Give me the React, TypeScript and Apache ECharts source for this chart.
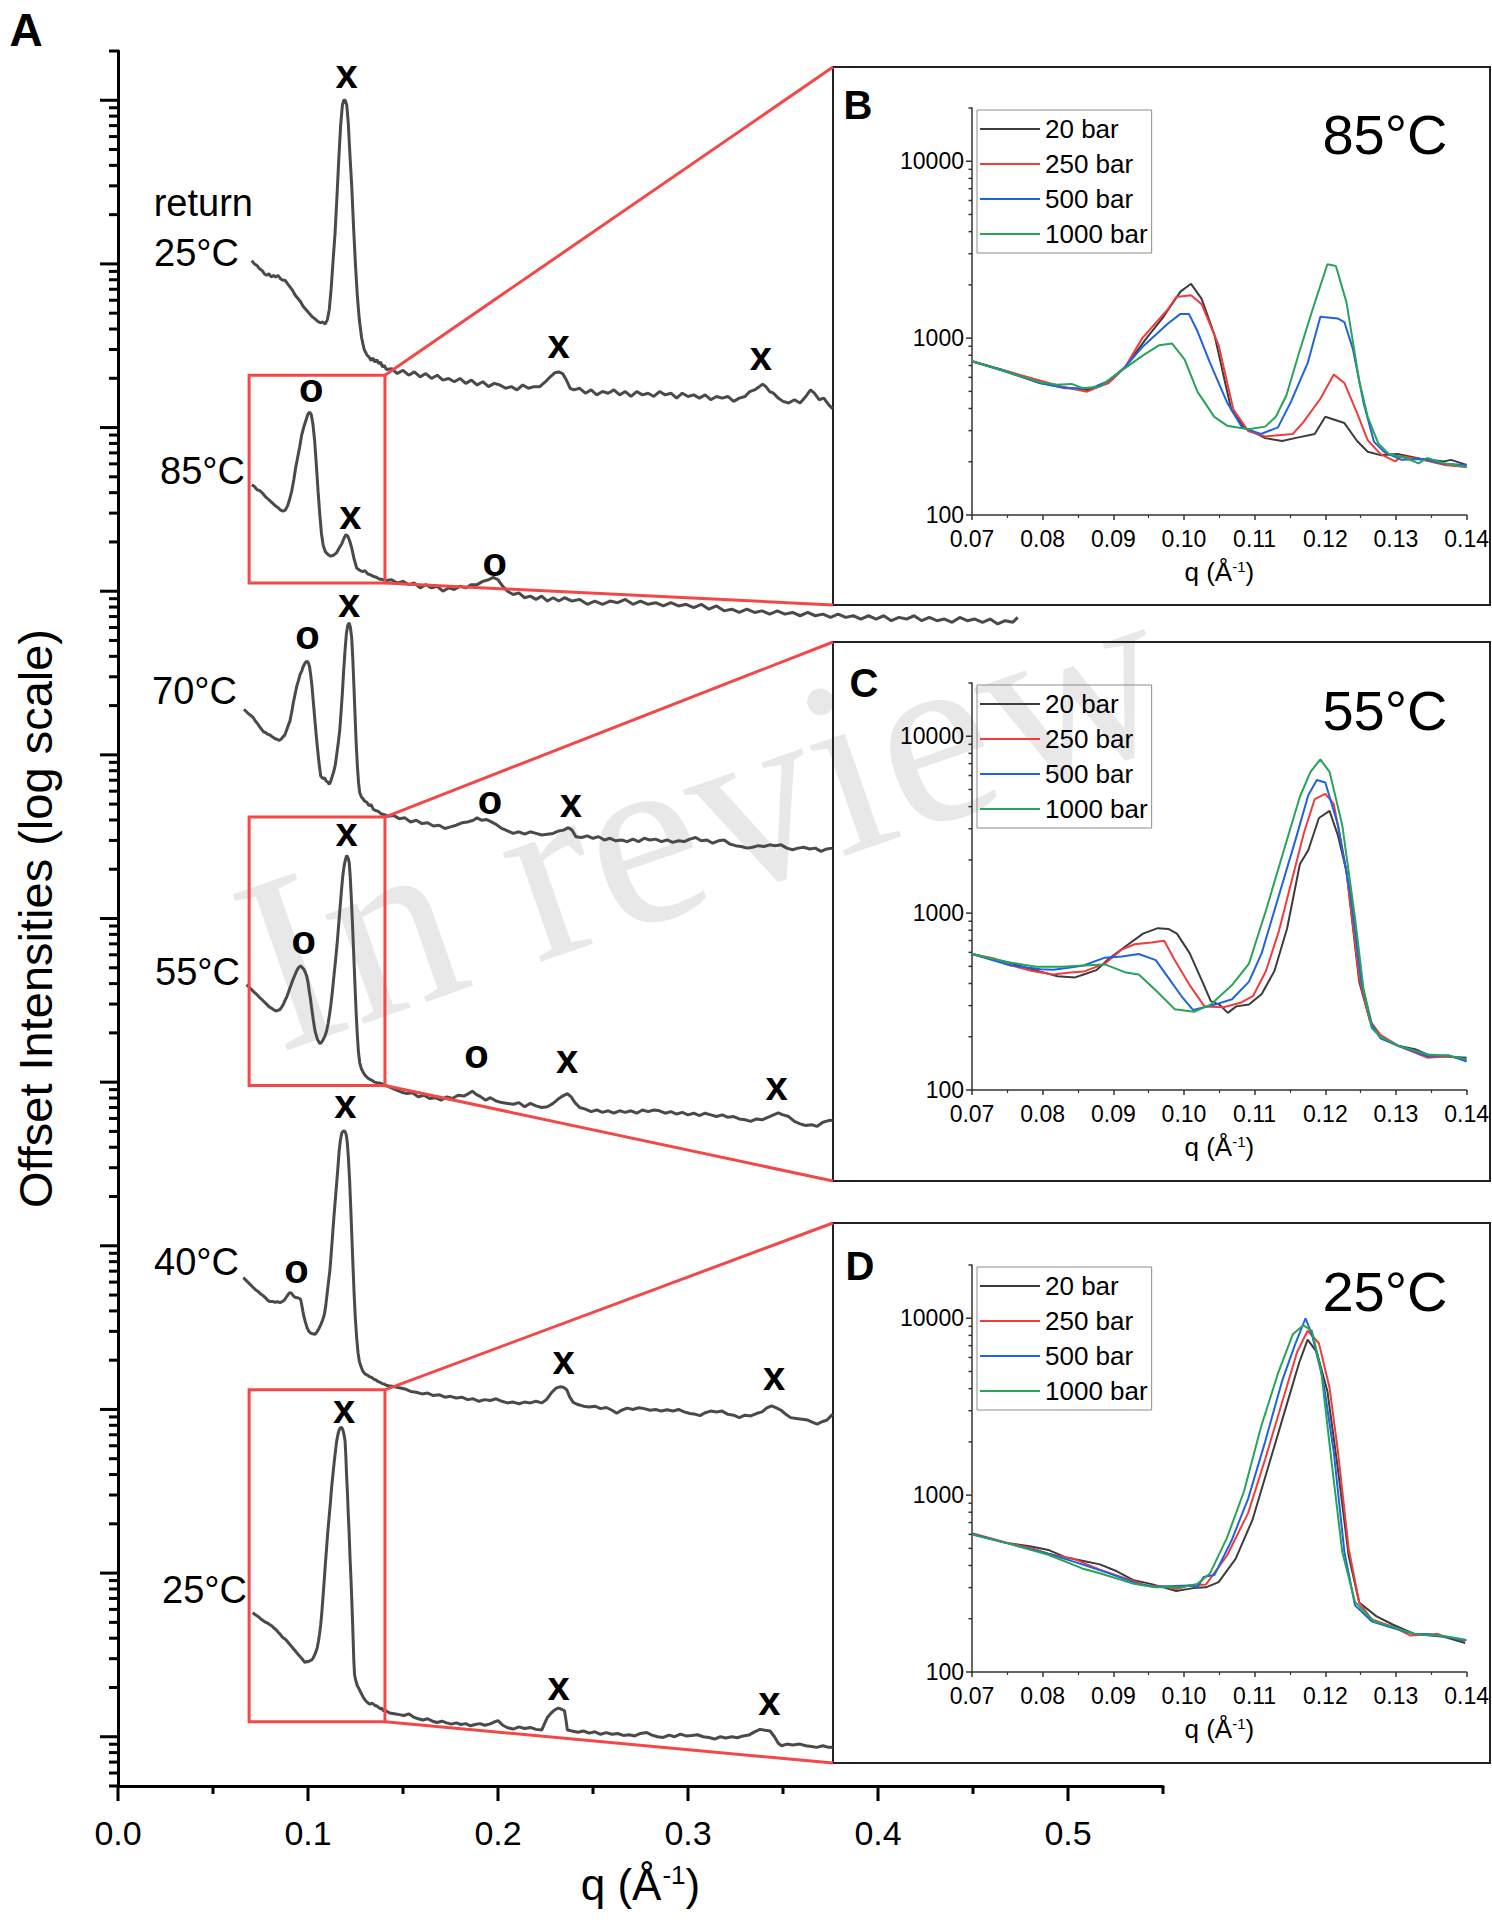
import React, { useEffect, useRef } from "react";
import * as echarts from "echarts";

type Pt = [number, number];

// ---------------- Panel A: q (Å^-1) vs log10(offset intensity) ----------------
const curveReturn25: Pt[] = [
  [0.0704,9.02],[0.0718,9.0],[0.0732,8.99],[0.0745,8.97],[0.0758,8.96],[0.077,8.94],[0.0782,8.93],[0.0794,8.94],[0.0806,8.92],[0.0818,8.93],[0.083,8.92],[0.0842,8.93],[0.0855,8.91],[0.0868,8.9],[0.088,8.9],[0.0892,8.88],[0.0905,8.86],[0.0918,8.84],[0.0932,8.81],[0.0946,8.79],[0.096,8.77],[0.0975,8.74],[0.099,8.72],[0.1005,8.7],[0.102,8.68],[0.1035,8.665],[0.105,8.65],[0.1065,8.64],[0.1078,8.645],[0.109,8.632],[0.1102,8.66],[0.1112,8.72],[0.1122,8.85],[0.1132,9.02],[0.1142,9.18],[0.1152,9.4],[0.1162,9.64],[0.1172,9.85],[0.1181,9.97],[0.1188,10.0],[0.1196,10.0],[0.1204,9.97],[0.1212,9.86],[0.1221,9.66],[0.123,9.48],[0.124,9.22],[0.125,8.99],[0.126,8.8],[0.127,8.66],[0.1282,8.55],[0.1295,8.48],[0.1309,8.445],[0.1322,8.43],[0.1332,8.41],[0.1342,8.425],[0.1352,8.4],[0.1362,8.415],[0.1372,8.39],[0.1382,8.4],[0.1392,8.37],[0.1402,8.38],[0.1412,8.355],
  [0.144,8.36],[0.147,8.33],[0.15,8.35],[0.153,8.32],[0.156,8.34],[0.159,8.31],[0.162,8.33],[0.165,8.3],[0.168,8.32],[0.171,8.29],[0.174,8.3],[0.177,8.28],[0.18,8.3],[0.183,8.27],[0.186,8.29],[0.189,8.26],[0.192,8.28],[0.195,8.25],[0.198,8.27],[0.201,8.26],[0.204,8.24],[0.207,8.25],[0.21,8.23],[0.213,8.26],[0.216,8.24],[0.219,8.25],[0.222,8.25],[0.225,8.28],[0.2275,8.31],[0.23,8.335],[0.232,8.34],[0.234,8.33],[0.236,8.29],[0.238,8.24],[0.24,8.23],[0.243,8.24],[0.246,8.21],[0.249,8.23],[0.252,8.2],[0.255,8.22],[0.258,8.21],[0.261,8.23],[0.264,8.2],[0.267,8.22],[0.27,8.19],[0.273,8.22],[0.276,8.2],[0.279,8.21],[0.282,8.19],[0.285,8.22],[0.288,8.2],[0.291,8.21],[0.294,8.18],[0.297,8.21],[0.3,8.19],[0.303,8.2],[0.306,8.18],[0.309,8.2],[0.312,8.17],[0.315,8.19],[0.318,8.18],[0.321,8.19],[0.324,8.16],[0.327,8.18],[0.33,8.19],[0.3325,8.22],[0.335,8.23],[0.3375,8.25],[0.3393,8.265],[0.341,8.25],[0.343,8.22],[0.345,8.21],[0.3475,8.18],[0.35,8.16],[0.353,8.15],[0.356,8.17],[0.359,8.15],[0.362,8.19],[0.3645,8.23],[0.3665,8.21],[0.369,8.17],[0.3715,8.18],[0.374,8.14],[0.3761,8.115]
];
const curve85: Pt[] = [
  [0.0704,7.65],[0.0718,7.64],[0.0732,7.62],[0.0746,7.615],[0.076,7.6],[0.0774,7.58],[0.0788,7.565],[0.0802,7.55],[0.0816,7.535],[0.083,7.52],[0.0843,7.51],[0.0856,7.495],[0.0868,7.489],[0.088,7.495],[0.0892,7.52],[0.0903,7.56],[0.0914,7.61],[0.0925,7.68],[0.0936,7.76],[0.0946,7.82],[0.0956,7.88],[0.0966,7.95],[0.0977,8.0],[0.0988,8.04],[0.0999,8.08],[0.1008,8.095],[0.1017,8.08],[0.1026,8.02],[0.1035,7.92],[0.1044,7.77],[0.1053,7.611],[0.1062,7.47],[0.1071,7.35],[0.108,7.28],[0.1092,7.24],[0.1105,7.225],[0.1119,7.214],[0.1135,7.22],[0.115,7.234],[0.1165,7.265],[0.1178,7.29],[0.119,7.325],[0.12,7.346],[0.121,7.335],[0.122,7.305],[0.123,7.265],[0.1242,7.2],[0.1256,7.142],[0.127,7.13],[0.1285,7.12],[0.13,7.125],[0.1315,7.105],[0.133,7.1],[0.1345,7.09],[0.136,7.085],[0.1375,7.075],[0.1392,7.071],[0.141,7.065],
  [0.144,7.07],[0.147,7.05],[0.15,7.06],[0.153,7.04],[0.156,7.05],[0.159,7.02],[0.162,7.04],[0.165,7.02],[0.168,7.03],[0.171,7.0],[0.174,7.02],[0.177,7.01],[0.18,7.03],[0.183,7.02],[0.186,7.04],[0.189,7.04],[0.192,7.06],[0.195,7.07],[0.1975,7.085],[0.2,7.07],[0.2025,7.03],[0.205,7.0],[0.208,6.98],[0.211,6.99],[0.214,6.96],[0.217,6.97],[0.22,6.95],[0.223,6.97],[0.226,6.94],[0.229,6.96],[0.232,6.94],[0.235,6.96],[0.239,6.94],[0.243,6.95],[0.247,6.92],[0.251,6.94],[0.255,6.92],[0.259,6.94],[0.263,6.93],[0.267,6.95],[0.271,6.92],[0.275,6.94],[0.279,6.92],[0.283,6.93],[0.287,6.91],[0.291,6.93],[0.295,6.91],[0.299,6.92],[0.303,6.9],[0.307,6.92],[0.311,6.89],[0.315,6.91],[0.319,6.88],[0.323,6.89],[0.327,6.87],[0.331,6.89],[0.335,6.87],[0.339,6.88],[0.343,6.86],[0.347,6.88],[0.351,6.86],[0.355,6.87],[0.359,6.85],[0.363,6.87],[0.367,6.85],[0.371,6.86],[0.375,6.84],[0.379,6.86],[0.383,6.84],[0.387,6.85],[0.391,6.83],[0.395,6.85],[0.399,6.83],[0.403,6.85],[0.407,6.82],[0.411,6.84],[0.415,6.83],[0.419,6.85],[0.423,6.82],[0.427,6.84],[0.431,6.82],[0.435,6.83],[0.439,6.81],[0.443,6.84],[0.447,6.82],[0.451,6.83],[0.455,6.81],[0.459,6.83],[0.463,6.8],[0.467,6.82],[0.471,6.81],[0.4735,6.84]
];
const curve70: Pt[] = [
  [0.0663,6.278],[0.0675,6.265],[0.0688,6.25],[0.07,6.24],[0.0712,6.227],[0.0724,6.205],[0.0735,6.19],[0.0746,6.17],[0.0756,6.156],[0.0767,6.14],[0.0778,6.135],[0.0789,6.125],[0.08,6.121],[0.0812,6.11],[0.0825,6.1],[0.0837,6.095],[0.0849,6.089],[0.0858,6.095],[0.0868,6.11],[0.0878,6.121],[0.0887,6.15],[0.0896,6.18],[0.0905,6.206],[0.0914,6.26],[0.0923,6.32],[0.0932,6.37],[0.0941,6.42],[0.095,6.455],[0.0958,6.49],[0.0967,6.512],[0.0975,6.54],[0.0984,6.56],[0.0993,6.573],[0.1001,6.565],[0.1008,6.54],[0.1014,6.49],[0.102,6.43],[0.1026,6.35],[0.1032,6.27],[0.1038,6.19],[0.1044,6.11],[0.105,6.04],[0.1058,5.95],[0.1067,5.87],[0.1078,5.855],[0.1088,5.86],[0.1095,5.84],[0.1103,5.835],[0.1112,5.82],[0.112,5.84],[0.1128,5.87],[0.1136,5.9],[0.1144,5.94],[0.1152,6.01],[0.116,6.08],[0.1167,6.15],[0.1174,6.26],[0.1181,6.38],[0.1188,6.52],[0.1195,6.64],[0.1202,6.74],[0.1209,6.79],[0.1216,6.807],[0.1223,6.78],[0.123,6.715],[0.1236,6.58],[0.1242,6.41],[0.1248,6.23],[0.1254,6.06],[0.126,5.93],[0.1266,5.83],[0.1272,5.77],[0.128,5.745],[0.129,5.73],[0.13,5.715],[0.131,5.71],[0.132,5.69],[0.1332,5.695],[0.1344,5.667],[0.1356,5.66],[0.137,5.655],[0.1384,5.64],[0.1398,5.636],
  [0.142,5.625],[0.145,5.63],[0.148,5.61],[0.151,5.615],[0.154,5.59],[0.157,5.6],[0.16,5.58],[0.163,5.585],[0.166,5.565],[0.169,5.57],[0.172,5.55],[0.175,5.56],[0.178,5.57],[0.181,5.585],[0.184,5.59],[0.187,5.6],[0.189,5.615],[0.1915,5.6],[0.194,5.605],[0.1965,5.59],[0.199,5.575],[0.202,5.55],[0.205,5.535],[0.208,5.52],[0.211,5.53],[0.214,5.515],[0.217,5.53],[0.22,5.52],[0.223,5.51],[0.226,5.515],[0.229,5.52],[0.232,5.535],[0.2345,5.54],[0.237,5.555],[0.239,5.54],[0.241,5.5],[0.244,5.495],[0.247,5.505],[0.25,5.49],[0.253,5.5],[0.256,5.48],[0.259,5.49],[0.262,5.475],[0.265,5.48],[0.268,5.47],[0.271,5.485],[0.274,5.47],[0.277,5.49],[0.28,5.48],[0.283,5.485],[0.286,5.47],[0.289,5.48],[0.292,5.465],[0.295,5.475],[0.298,5.47],[0.301,5.485],[0.304,5.495],[0.307,5.475],[0.31,5.48],[0.313,5.46],[0.316,5.475],[0.319,5.48],[0.322,5.455],[0.325,5.445],[0.328,5.44],[0.331,5.43],[0.334,5.435],[0.337,5.445],[0.34,5.44],[0.343,5.45],[0.346,5.445],[0.349,5.45],[0.352,5.43],[0.355,5.42],[0.358,5.43],[0.361,5.435],[0.364,5.425],[0.367,5.43],[0.37,5.41],[0.373,5.425],[0.3761,5.43]
];
const curve55: Pt[] = [
  [0.0677,4.597],[0.069,4.58],[0.0703,4.565],[0.0716,4.55],[0.073,4.536],[0.0743,4.52],[0.0757,4.505],[0.077,4.49],[0.0783,4.475],[0.0796,4.46],[0.081,4.45],[0.0822,4.44],[0.0835,4.435],[0.0845,4.44],[0.0853,4.445],[0.0862,4.46],[0.087,4.475],[0.0879,4.5],[0.0888,4.52],[0.0897,4.55],[0.0905,4.576],[0.0914,4.605],[0.0922,4.63],[0.0931,4.655],[0.094,4.679],[0.095,4.7],[0.0961,4.71],[0.097,4.7],[0.0978,4.69],[0.0986,4.67],[0.0993,4.649],[0.1,4.61],[0.1006,4.56],[0.1013,4.51],[0.1019,4.455],[0.1028,4.38],[0.1037,4.313],[0.105,4.26],[0.1063,4.235],[0.1072,4.245],[0.108,4.26],[0.109,4.285],[0.1098,4.313],[0.1106,4.36],[0.1113,4.41],[0.112,4.47],[0.1127,4.54],[0.1134,4.62],[0.1141,4.7],[0.1148,4.78],[0.1155,4.87],[0.1162,4.97],[0.1169,5.07],[0.1176,5.17],[0.1183,5.26],[0.119,5.32],[0.1197,5.36],[0.1204,5.385],[0.1211,5.37],[0.1217,5.341],[0.1223,5.24],[0.1229,5.1],[0.1235,4.942],[0.1241,4.77],[0.1247,4.6],[0.1253,4.435],[0.1259,4.3],[0.1265,4.19],[0.1272,4.12],[0.128,4.085],[0.1291,4.058],[0.1302,4.04],[0.1314,4.025],[0.1326,4.017],[0.1338,4.01],[0.135,4.0],[0.1362,3.997],[0.1375,3.995],[0.1388,3.99],[0.14,3.985],
  [0.143,3.97],[0.146,3.955],[0.149,3.94],[0.152,3.93],[0.155,3.935],[0.158,3.91],[0.161,3.92],[0.164,3.9],[0.167,3.905],[0.17,3.89],[0.173,3.91],[0.176,3.9],[0.179,3.92],[0.182,3.915],[0.1845,3.93],[0.1865,3.945],[0.1885,3.925],[0.191,3.91],[0.1935,3.89],[0.196,3.905],[0.199,3.885],[0.202,3.875],[0.205,3.87],[0.208,3.865],[0.211,3.875],[0.214,3.85],[0.217,3.87],[0.22,3.855],[0.223,3.845],[0.226,3.85],[0.229,3.87],[0.2315,3.895],[0.234,3.915],[0.2365,3.93],[0.2385,3.91],[0.2405,3.875],[0.243,3.845],[0.246,3.835],[0.249,3.82],[0.252,3.83],[0.255,3.815],[0.258,3.825],[0.261,3.81],[0.264,3.825],[0.267,3.815],[0.27,3.825],[0.273,3.81],[0.276,3.83],[0.279,3.82],[0.282,3.83],[0.285,3.825],[0.288,3.81],[0.291,3.82],[0.294,3.805],[0.297,3.815],[0.3,3.8],[0.303,3.81],[0.306,3.795],[0.309,3.81],[0.312,3.8],[0.315,3.79],[0.318,3.8],[0.321,3.785],[0.324,3.79],[0.327,3.775],[0.33,3.77],[0.333,3.76],[0.336,3.775],[0.339,3.77],[0.342,3.785],[0.345,3.8],[0.3475,3.812],[0.35,3.8],[0.353,3.79],[0.356,3.76],[0.359,3.745],[0.362,3.735],[0.365,3.74],[0.368,3.73],[0.371,3.755],[0.374,3.765],[0.3761,3.767]
];
const curve40: Pt[] = [
  [0.066,2.806],[0.0673,2.79],[0.0686,2.775],[0.0699,2.76],[0.0712,2.745],[0.0725,2.73],[0.0738,2.72],[0.0752,2.705],[0.0765,2.694],[0.0778,2.68],[0.079,2.665],[0.08,2.659],[0.0813,2.66],[0.0827,2.655],[0.084,2.658],[0.0853,2.653],[0.0866,2.66],[0.0879,2.673],[0.0888,2.69],[0.0897,2.705],[0.0905,2.714],[0.0913,2.71],[0.0922,2.695],[0.0932,2.685],[0.0942,2.683],[0.0952,2.68],[0.0961,2.673],[0.0967,2.64],[0.0973,2.6],[0.0979,2.565],[0.0986,2.535],[0.0995,2.5],[0.1003,2.48],[0.1012,2.468],[0.1024,2.462],[0.1037,2.46],[0.1048,2.475],[0.1058,2.495],[0.1068,2.52],[0.1078,2.55],[0.1086,2.58],[0.1093,2.63],[0.11,2.7],[0.1107,2.77],[0.1115,2.847],[0.1122,2.95],[0.1129,3.06],[0.1136,3.17],[0.1143,3.27],[0.115,3.37],[0.1157,3.47],[0.1164,3.58],[0.1171,3.65],[0.1178,3.69],[0.1186,3.702],[0.1194,3.7],[0.1201,3.68],[0.1207,3.63],[0.1213,3.53],[0.1219,3.4],[0.1225,3.23],[0.1231,3.05],[0.1237,2.87],[0.1243,2.7],[0.1249,2.56],[0.1256,2.44],[0.1263,2.35],[0.127,2.295],[0.1278,2.265],[0.1288,2.235],[0.13,2.217],[0.1312,2.21],[0.1324,2.2],[0.1335,2.196],[0.1346,2.185],[0.1358,2.18],[0.1368,2.17],[0.1379,2.166],[0.139,2.158],[0.1401,2.155],[0.1412,2.148],[0.1423,2.145],
  [0.145,2.14],[0.148,2.132],[0.151,2.125],[0.154,2.11],[0.157,2.105],[0.16,2.095],[0.163,2.1],[0.166,2.085],[0.169,2.09],[0.172,2.075],[0.175,2.08],[0.178,2.07],[0.181,2.075],[0.184,2.06],[0.187,2.065],[0.19,2.05],[0.193,2.06],[0.196,2.055],[0.199,2.065],[0.202,2.05],[0.205,2.04],[0.208,2.045],[0.211,2.035],[0.214,2.045],[0.217,2.04],[0.22,2.05],[0.223,2.04],[0.2255,2.06],[0.228,2.1],[0.2305,2.13],[0.2326,2.138],[0.2345,2.135],[0.2362,2.12],[0.2378,2.075],[0.2396,2.043],[0.242,2.03],[0.245,2.02],[0.248,2.015],[0.251,2.02],[0.254,2.005],[0.257,2.012],[0.26,1.995],[0.2625,1.976],[0.265,1.995],[0.268,2.008],[0.271,2.0],[0.274,2.01],[0.277,2.005],[0.28,1.995],[0.283,2.0],[0.286,1.99],[0.289,1.998],[0.292,1.99],[0.295,2.0],[0.298,1.985],[0.301,1.975],[0.304,1.97],[0.3063,1.962],[0.309,1.98],[0.312,1.99],[0.315,1.985],[0.318,1.99],[0.321,1.97],[0.324,1.965],[0.327,1.95],[0.33,1.965],[0.333,1.96],[0.336,1.975],[0.339,1.985],[0.3415,2.01],[0.344,2.022],[0.3465,2.01],[0.349,1.995],[0.3515,1.97],[0.354,1.95],[0.357,1.945],[0.36,1.94],[0.363,1.935],[0.366,1.92],[0.368,1.91],[0.3705,1.925],[0.373,1.934],[0.3761,1.97]
];
const curve25: Pt[] = [
  [0.0709,0.759],[0.0723,0.745],[0.0737,0.735],[0.0751,0.72],[0.0765,0.709],[0.0776,0.7],[0.0787,0.695],[0.0798,0.685],[0.0809,0.678],[0.082,0.665],[0.0831,0.655],[0.0842,0.64],[0.0853,0.627],[0.0864,0.61],[0.0875,0.6],[0.0886,0.59],[0.0896,0.576],[0.0907,0.56],[0.0918,0.545],[0.0929,0.53],[0.094,0.515],[0.0951,0.5],[0.0962,0.485],[0.0973,0.47],[0.0984,0.454],[0.0992,0.46],[0.1001,0.458],[0.101,0.465],[0.1019,0.468],[0.1027,0.48],[0.1035,0.5],[0.1042,0.52],[0.1049,0.546],[0.1055,0.585],[0.1061,0.63],[0.1067,0.685],[0.1072,0.749],[0.1078,0.84],[0.1085,0.95],[0.1091,1.05],[0.1098,1.156],[0.1104,1.25],[0.1111,1.34],[0.1118,1.43],[0.1124,1.521],[0.1131,1.6],[0.1138,1.68],[0.1145,1.75],[0.1151,1.808],[0.1158,1.85],[0.1164,1.875],[0.1171,1.888],[0.1177,1.889],[0.1182,1.88],[0.1188,1.855],[0.1195,1.808],[0.1199,1.72],[0.1203,1.6],[0.1208,1.48],[0.1212,1.36],[0.1217,1.23],[0.1221,1.1],[0.1226,0.97],[0.123,0.851],[0.1234,0.72],[0.1238,0.58],[0.1241,0.47],[0.1245,0.38],[0.125,0.35],[0.1255,0.33],[0.126,0.31],[0.1265,0.301],[0.1272,0.285],[0.1278,0.27],[0.1285,0.255],[0.1291,0.24],[0.13,0.225],[0.1308,0.215],[0.1317,0.205],[0.1326,0.199],[0.1335,0.205],[0.1344,0.2],[0.1353,0.19],[0.1362,0.189],[0.1371,0.18],[0.138,0.17],[0.1388,0.175],[0.1396,0.159],[0.1405,0.162],
  [0.143,0.145],[0.1455,0.14],[0.148,0.135],[0.1505,0.13],[0.153,0.14],[0.1555,0.12],[0.158,0.11],[0.1605,0.102],[0.163,0.11],[0.1655,0.095],[0.168,0.087],[0.1705,0.095],[0.173,0.085],[0.1755,0.077],[0.178,0.085],[0.1805,0.075],[0.183,0.08],[0.1855,0.067],[0.188,0.075],[0.1905,0.08],[0.193,0.07],[0.1955,0.077],[0.198,0.09],[0.2,0.098],[0.2025,0.07],[0.205,0.055],[0.208,0.047],[0.211,0.06],[0.214,0.05],[0.217,0.057],[0.22,0.045],[0.223,0.041],[0.2245,0.08],[0.226,0.118],[0.228,0.145],[0.23,0.165],[0.2317,0.175],[0.2335,0.168],[0.235,0.159],[0.2358,0.1],[0.2365,0.041],[0.239,0.035],[0.242,0.028],[0.245,0.035],[0.248,0.022],[0.251,0.03],[0.254,0.015],[0.257,0.025],[0.26,0.015],[0.263,0.02],[0.266,0.008],[0.269,0.012],[0.272,0.005],[0.275,0.02],[0.2783,0.026],[0.281,0.01],[0.284,0.0],[0.287,-0.004],[0.29,0.01],[0.293,0.0],[0.296,0.016],[0.299,0.005],[0.302,0.008],[0.305,0.012],[0.308,0.0],[0.311,-0.005],[0.314,-0.014],[0.317,0.0],[0.32,-0.008],[0.323,0.0],[0.326,-0.006],[0.329,0.005],[0.332,0.01],[0.335,0.03],[0.3379,0.045],[0.3405,0.04],[0.3432,0.035],[0.3455,0.0],[0.3475,-0.04],[0.3493,-0.055],[0.352,-0.045],[0.355,-0.05],[0.3589,-0.045],[0.362,-0.055],[0.365,-0.06],[0.3677,-0.065],[0.371,-0.055],[0.374,-0.065],[0.3761,-0.065]
];
const mainCurves: { name: string; data: Pt[] }[] = [
  { name: "return 25°C", data: curveReturn25 },
  { name: "85°C", data: curve85 },
  { name: "70°C", data: curve70 },
  { name: "55°C", data: curve55 },
  { name: "40°C", data: curve40 },
  { name: "25°C", data: curve25 },
];

// peak markers: [q, log10 offset intensity, symbol]
const peakMarks: [number, number, string][] = [
  [0.1203,10.14,"x"],[0.2319,8.494,"x"],[0.3383,8.42,"x"],
  [0.1017,8.225,"o"],[0.1223,7.447,"x"],[0.1983,7.163,"o"],
  [0.0997,6.713,"o"],[0.1216,6.908,"x"],[0.1958,5.703,"o"],[0.2384,5.688,"x"],
  [0.1203,5.509,"x"],[0.0978,4.85,"o"],[0.1887,4.154,"o"],[0.2364,4.124,"x"],[0.3467,3.96,"x"],
  [0.1197,3.848,"x"],[0.0939,2.837,"o"],[0.2345,2.283,"x"],[0.3453,2.186,"x"],
  [0.119,1.984,"x"],[0.2319,0.293,"x"],[0.3428,0.203,"x"],
];

// zoomed regions in panel A: [q0, q1, logTop, logBottom]
const zoomBoxes: [number, number, number, number][] = [
  [0.069, 0.1405, 8.32, 7.05],
  [0.069, 0.1405, 5.62, 3.98],
  [0.069, 0.1405, 2.12, 0.092],
];

// curve labels in panel A: [text, rightX, centerY]
const curveLabels: [string, number, number][] = [
  ["return", 253, 203], ["25°C", 239, 253], ["85°C", 245, 471], ["70°C", 237, 691],
  ["55°C", 240, 972], ["40°C", 239, 1262], ["25°C", 247, 1590],
];

// ---------------- Insets B, C, D: q vs intensity ----------------
const pressures = ["20 bar", "250 bar", "500 bar", "1000 bar"];
const pressureColors = ["#3c3c3c", "#f03c3c", "#1f63e0", "#27a35a"];
const insetTemps = ["85°C", "55°C", "25°C"];
const insetLetters = ["B", "C", "D"];

const b20: Pt[] = [[0.07,740],[0.0742,658],[0.0796,558],[0.0832,526],[0.0863,509],[0.0893,558],[0.0917,689],[0.0947,1000],[0.0971,1320],[0.0995,1832],[0.101,2028],[0.1025,1667],[0.1043,1047],[0.1055,640],[0.1067,394],[0.1085,313],[0.1115,272],[0.1139,262],[0.1157,272],[0.1185,287],[0.12,359],[0.1227,331],[0.1245,262],[0.126,228],[0.1278,218],[0.1302,221],[0.1338,207],[0.1368,201],[0.1378,205],[0.14,192]];
const b250: Pt[] = [[0.07,740],[0.0754,643],[0.0826,533],[0.0863,498],[0.0893,558],[0.0917,689],[0.0941,1000],[0.0977,1452],[0.0989,1708],[0.101,1748],[0.1025,1555],[0.1049,912],[0.107,394],[0.1091,298],[0.1115,278],[0.1154,287],[0.1169,335],[0.1193,454],[0.1212,622],[0.1227,558],[0.1245,377],[0.126,265],[0.1278,221],[0.1299,201],[0.1308,215],[0.1338,205],[0.1368,192],[0.14,187]];
const b500: Pt[] = [[0.07,740],[0.0742,662],[0.0796,558],[0.0832,521],[0.0869,521],[0.0893,573],[0.0917,689],[0.0941,890],[0.0977,1205],[0.0995,1371],[0.1007,1371],[0.1019,1097],[0.1037,722],[0.1061,433],[0.1082,313],[0.1109,287],[0.1133,313],[0.1151,433],[0.1175,722],[0.1193,1320],[0.1218,1291],[0.1227,1233],[0.1239,869],[0.1254,433],[0.1269,259],[0.1284,226],[0.1308,205],[0.1338,207],[0.1368,195],[0.14,192]];
const b1000: Pt[] = [[0.07,740],[0.0742,658],[0.0796,563],[0.082,545],[0.0841,551],[0.0857,521],[0.0881,533],[0.0905,628],[0.0941,793],[0.0965,912],[0.0983,933],[0.1001,757],[0.1019,498],[0.1043,359],[0.1061,320],[0.1091,305],[0.1115,316],[0.113,359],[0.1145,475],[0.1163,830],[0.1182,1452],[0.1203,2618],[0.1215,2559],[0.123,1592],[0.1248,573],[0.126,359],[0.1275,254],[0.129,221],[0.1314,210],[0.1332,196],[0.1344,210],[0.1368,196],[0.14,187]];

const c20: Pt[] = [[0.07,587],[0.0749,529],[0.0797,467],[0.0821,440],[0.0846,433],[0.0858,450],[0.0876,476],[0.0894,554],[0.0918,652],[0.0942,766],[0.0963,822],[0.0978,814],[0.099,766],[0.1008,594],[0.1026,410],[0.1038,318],[0.105,304],[0.1062,273],[0.1074,297],[0.1092,304],[0.111,349],[0.1128,471],[0.1146,822],[0.1164,1888],[0.1176,2275],[0.1191,3450],[0.1206,3784],[0.1218,2738],[0.123,1721],[0.1248,410],[0.1266,225],[0.1278,200],[0.1303,178],[0.1327,170],[0.1351,155],[0.1375,154],[0.14,152]];
const c250: Pt[] = [[0.07,587],[0.0731,554],[0.0749,513],[0.0785,471],[0.0815,450],[0.0839,461],[0.0858,467],[0.0888,518],[0.0912,622],[0.093,667],[0.0954,682],[0.0972,698],[0.0987,542],[0.1008,392],[0.1029,297],[0.1056,294],[0.108,311],[0.1098,341],[0.1116,471],[0.1134,783],[0.1152,1498],[0.117,2866],[0.1185,4406],[0.12,4724],[0.1212,4149],[0.123,1721],[0.1248,430],[0.1263,247],[0.1278,205],[0.1303,178],[0.1345,152],[0.1375,155],[0.14,148]];
const c500: Pt[] = [[0.07,587],[0.0755,506],[0.0797,482],[0.0815,479],[0.0834,489],[0.0858,506],[0.0888,560],[0.0912,568],[0.0936,587],[0.096,542],[0.0978,430],[0.0996,341],[0.1013,283],[0.1044,304],[0.1068,326],[0.1092,410],[0.111,594],[0.1134,1245],[0.1158,2612],[0.1176,4655],[0.1188,5656],[0.12,5479],[0.1218,3141],[0.1236,1245],[0.1251,410],[0.1266,235],[0.1278,196],[0.1303,178],[0.1345,155],[0.1375,157],[0.14,145]];
const c1000: Pt[] = [[0.07,587],[0.0749,529],[0.0791,498],[0.0827,498],[0.0858,506],[0.0888,513],[0.0918,461],[0.0936,450],[0.096,366],[0.0987,286],[0.1014,277],[0.1038,304],[0.1068,392],[0.1092,518],[0.1116,1035],[0.114,2173],[0.1164,4550],[0.1179,6295],[0.1193,7396],[0.1206,6295],[0.1224,3141],[0.1242,944],[0.1254,374],[0.1266,225],[0.1278,200],[0.1303,178],[0.1345,159],[0.1375,156],[0.14,149]];

const d20: Pt[] = [[0.07,603],[0.0748,537],[0.0784,513],[0.0808,490],[0.0832,446],[0.0856,426],[0.0881,406],[0.0905,371],[0.0929,330],[0.0953,315],[0.0971,301],[0.0989,287],[0.1013,298],[0.1031,301],[0.1049,322],[0.1073,436],[0.1097,726],[0.1121,1525],[0.1145,3206],[0.1163,5602],[0.1175,7575],[0.1188,6428],[0.1203,3860],[0.1218,1390],[0.1233,456],[0.1248,247],[0.1272,207],[0.1296,185],[0.1326,164],[0.1368,158],[0.1398,146]];
const d250: Pt[] = [[0.07,610],[0.0748,540],[0.0784,501],[0.0808,467],[0.0844,436],[0.0881,379],[0.0911,345],[0.0947,308],[0.0977,303],[0.0989,294],[0.1007,308],[0.1031,312],[0.1061,456],[0.1091,796],[0.1115,1600],[0.1139,3359],[0.116,6428],[0.1175,8495],[0.1191,7225],[0.1206,4047],[0.1218,1753],[0.1233,501],[0.1248,247],[0.1266,198],[0.1296,180],[0.132,161],[0.1359,164],[0.1368,159],[0.14,151]];
const d500: Pt[] = [[0.07,603],[0.0748,537],[0.0808,467],[0.0856,406],[0.0893,362],[0.0935,315],[0.0959,303],[0.1007,308],[0.1019,301],[0.1028,345],[0.1043,353],[0.1067,550],[0.1091,959],[0.1115,2014],[0.1139,4436],[0.1157,7063],[0.1172,10000],[0.1181,8110],[0.1197,4436],[0.1212,1753],[0.1227,478],[0.1242,238],[0.1266,193],[0.1296,177],[0.1326,164],[0.1344,164],[0.1368,159],[0.1398,150]];
const d1000: Pt[] = [[0.07,598],[0.0748,537],[0.0808,460],[0.0856,385],[0.0881,362],[0.0929,315],[0.0959,301],[0.0995,301],[0.1019,315],[0.1037,362],[0.1061,575],[0.1085,1052],[0.1109,2427],[0.1133,4875],[0.1154,8110],[0.1169,9120],[0.1181,8495],[0.1194,5105],[0.1209,1525],[0.1224,478],[0.1242,249],[0.1269,193],[0.1296,180],[0.1326,164],[0.1368,160],[0.1398,152]];

const insetSeries: Pt[][][] = [
  [b20, b250, b500, b1000],
  [c20, c250, c500, c1000],
  [d20, d250, d500, d1000],
];

// ---------------- layout ----------------
const SANS = '"Liberation Sans", Arial, Helvetica, sans-serif';
const MAIN_GRID = { left: 118, top: 51, width: 1045, height: 1735 };
const INSET_TOPS = [108, 683, 1265];
const INSET_LEFT = 972;
const INSET_W = 498;
const INSET_H = 407;
const FRAMES = [
  [833, 67, 1490, 605],
  [833, 642, 1490, 1181],
  [833, 1223, 1490, 1763],
];
const Y_MIN = Math.log10(0.5);
const Y_MAX = Math.log10(2e10);
const I_MIN = 2;
const I_MAX = Math.log10(20000);
const RED = "#f24848";

function txt(text: string, x: number, y: number, size: number, align: string, opts: any = {}) {
  return {
    type: "text",
    x,
    y,
    z: 10,
    silent: true,
    style: {
      text,
      fontSize: size,
      fontFamily: SANS,
      fontWeight: opts.bold ? "bold" : "normal",
      fill: "#000",
      align,
      textAlign: align,
      verticalAlign: "middle",
      textVerticalAlign: "middle",
    },
  };
}

function buildOption() {
  const grid: any[] = [
    { ...MAIN_GRID },
    ...INSET_TOPS.map((t) => ({ left: INSET_LEFT, top: t, width: INSET_W, height: INSET_H })),
  ];

  const xAxis: any[] = [
    {
      gridIndex: 0, type: "value", min: 0, max: 0.55, interval: 0.1, z: 2,
      axisLine: { show: true, onZero: false, lineStyle: { color: "#000", width: 3 } },
      axisTick: { show: false }, splitLine: { show: false },
      axisLabel: {
        fontSize: 34, color: "#000", fontFamily: SANS, margin: 30, showMaxLabel: false,
        formatter: (v: number) => (v > 0.5001 ? "" : v.toFixed(1)),
      },
      name: "q (Å{sup|-1})", nameLocation: "middle", nameGap: 76,
      nameTextStyle: {
        fontSize: 44, color: "#000", fontFamily: SANS,
        rich: { sup: { fontSize: 26, color: "#000", fontFamily: SANS, verticalAlign: "top", padding: [0, 0, 0, 1] } },
      },
    },
    ...INSET_TOPS.map((_, i) => ({
      gridIndex: i + 1, type: "value", min: 0.07, max: 0.14, interval: 0.01, z: 2,
      axisLine: { show: true, onZero: false, lineStyle: { color: "#333", width: 1.5 } },
      axisTick: { show: true, length: 5, lineStyle: { color: "#333", width: 1.5 } },
      minorTick: { show: true, splitNumber: 2, length: 3, lineStyle: { color: "#333", width: 1.2 } },
      splitLine: { show: false },
      axisLabel: { fontSize: 23, color: "#000", fontFamily: SANS, margin: 12, formatter: (v: number) => v.toFixed(2) },
      name: "q (Å{sup|-1})", nameLocation: "middle", nameGap: 44,
      nameTextStyle: {
        fontSize: 26, color: "#000", fontFamily: SANS,
        rich: { sup: { fontSize: 15, color: "#000", fontFamily: SANS, verticalAlign: "top" } },
      },
    })),
  ];

  const yAxis: any[] = [
    {
      gridIndex: 0, type: "value", min: Y_MIN, max: Y_MAX, z: 2,
      axisLine: { show: true, onZero: false, lineStyle: { color: "#000", width: 3 } },
      axisTick: { show: false }, axisLabel: { show: false }, splitLine: { show: false },
      name: "Offset Intensities (log scale)", nameLocation: "middle", nameGap: 59,
      nameTextStyle: { fontSize: 47, color: "#000", fontFamily: SANS },
    },
    ...INSET_TOPS.map((_, i) => ({
      gridIndex: i + 1, type: "value", min: I_MIN, max: I_MAX, interval: 1, z: 2,
      axisLine: { show: true, onZero: false, lineStyle: { color: "#333", width: 1.5 } },
      axisTick: { show: false }, splitLine: { show: false },
      axisLabel: {
        fontSize: 23, color: "#000", fontFamily: SANS, margin: 8, showMaxLabel: false,
        formatter: (v: number) => (Math.abs(v - Math.round(v)) < 1e-6 ? String(Math.round(Math.pow(10, v))) : ""),
      },
    })),
  ];

  const series: any[] = [];

  mainCurves.forEach((c) => {
    series.push({
      type: "line", name: c.name, xAxisIndex: 0, yAxisIndex: 0, data: c.data,
      symbol: "none", silent: true, z: 3,
      lineStyle: { color: "#4a4a4a", width: 3 },
    });
  });

  // main axis ticks (log decades on y, 0.05 steps on x)
  const mainTicks: number[][] = [];
  for (let e = -1; e <= 10; e++) {
    for (let k = 1; k <= 9; k++) {
      const v = e + Math.log10(k);
      if (v >= Y_MIN - 1e-9 && v <= Y_MAX + 1e-9) mainTicks.push([0, v, k === 1 ? 1 : 0, 1]);
    }
  }
  for (let i = 0; i <= 11; i++) mainTicks.push([i * 0.05, Y_MIN, i % 2 === 0 ? 1 : 0, 0]);
  series.push({
    type: "custom", xAxisIndex: 0, yAxisIndex: 0, data: mainTicks, silent: true, clip: false, z: 5,
    renderItem: (_p: any, api: any) => {
      const p = api.coord([api.value(0), api.value(1)]);
      const major = api.value(2) === 1;
      const isY = api.value(3) === 1;
      const len = isY ? (major ? 18 : 9) : major ? 15 : 8;
      return {
        type: "line",
        shape: isY ? { x1: p[0] - len, y1: p[1], x2: p[0], y2: p[1] } : { x1: p[0], y1: p[1], x2: p[0], y2: p[1] + len },
        style: { stroke: "#000", lineWidth: 3 },
      };
    },
  });

  // zoom boxes + connectors
  series.push({
    type: "custom", xAxisIndex: 0, yAxisIndex: 0, silent: true, clip: false, z: 4,
    data: zoomBoxes.map((b, i) => [b[0], b[2], b[1], b[3], i]),
    renderItem: (_p: any, api: any) => {
      const tl = api.coord([api.value(0), api.value(1)]);
      const br = api.coord([api.value(2), api.value(3)]);
      const f = FRAMES[api.value(4)];
      const style = { stroke: RED, lineWidth: 3, fill: "none" };
      return {
        type: "group",
        children: [
          { type: "rect", shape: { x: tl[0], y: tl[1], width: br[0] - tl[0], height: br[1] - tl[1] }, style },
          { type: "line", shape: { x1: br[0], y1: tl[1], x2: f[0], y2: f[1] }, style },
          { type: "line", shape: { x1: br[0], y1: br[1], x2: f[0], y2: f[3] }, style },
        ],
      };
    },
  });

  // peak markers
  series.push({
    type: "custom", xAxisIndex: 0, yAxisIndex: 0, silent: true, clip: false, z: 6,
    data: peakMarks.map((m, i) => [m[0], m[1], i]),
    renderItem: (_p: any, api: any) => {
      const p = api.coord([api.value(0), api.value(1)]);
      const m = peakMarks[api.value(2)];
      return {
        type: "text", x: p[0], y: p[1] - 3,
        style: {
          text: m[2], fontSize: 40, fontWeight: "bold", fontFamily: SANS, fill: "#000",
          align: "center", verticalAlign: "middle", textAlign: "center", textVerticalAlign: "middle",
        },
      };
    },
  });

  // insets
  const insetTicks: number[][] = [];
  for (let e = 2; e <= 4; e++) {
    for (let k = 1; k <= 9; k++) {
      const v = e + Math.log10(k);
      if (v <= I_MAX + 1e-9) insetTicks.push([0.07, v, k === 1 ? 1 : 0]);
    }
  }
  insetSeries.forEach((group, gi) => {
    group.forEach((data, pi) => {
      series.push({
        type: "line", name: pressures[pi], xAxisIndex: gi + 1, yAxisIndex: gi + 1,
        data: data.map(([q, I]) => [q, Math.log10(I)]),
        symbol: "none", z: 3,
        lineStyle: { color: pressureColors[pi], width: 2 },
        itemStyle: { color: pressureColors[pi] },
      });
    });
    series.push({
      type: "custom", xAxisIndex: gi + 1, yAxisIndex: gi + 1, data: insetTicks, silent: true, clip: false, z: 5,
      renderItem: (_p: any, api: any) => {
        const p = api.coord([api.value(0), api.value(1)]);
        const len = api.value(2) === 1 ? 6 : 3.5;
        return { type: "line", shape: { x1: p[0] - len, y1: p[1], x2: p[0], y2: p[1] }, style: { stroke: "#333", lineWidth: 1.5 } };
      },
    });
  });

  const legend = INSET_TOPS.map((t) => ({
    data: pressures.map((n) => ({ name: n, icon: "rect" })),
    left: 977, top: t + 2, orient: "vertical", z: 4,
    itemWidth: 60, itemHeight: 2, itemGap: 9, padding: [6, 4, 6, 3],
    borderColor: "#8c8c8c", borderWidth: 1, selectedMode: false,
    textStyle: { fontSize: 26, fontFamily: SANS, color: "#000" },
  }));

  const graphic: any[] = [
    {
      type: "text", x: 292, y: 1092, rotation: 0.335, z: -10, zlevel: 0, silent: true,
      style: {
        text: "In review", fontSize: 252, fontFamily: '"Liberation Serif", "DejaVu Serif", serif',
        fill: "#e8e8e8", align: "left", textAlign: "left", verticalAlign: "bottom", textVerticalAlign: "bottom",
      },
    },
    ...FRAMES.map((f) => ({
      type: "rect", z: 2, silent: true,
      shape: { x: f[0], y: f[1], width: f[2] - f[0], height: f[3] - f[1] },
      style: { stroke: "#222", lineWidth: 2, fill: "none" },
    })),
    txt("A", 26, 30, 46, "center", { bold: true }),
    txt(insetLetters[0], 858, 105, 40, "center", { bold: true }),
    txt(insetLetters[1], 864, 683, 40, "center", { bold: true }),
    txt(insetLetters[2], 860, 1266, 40, "center", { bold: true }),
    txt(insetTemps[0], 1385, 134, 56, "center"),
    txt(insetTemps[1], 1385, 710, 56, "center"),
    txt(insetTemps[2], 1385, 1291, 56, "center"),
    ...curveLabels.map(([t, x, y]) => txt(t, x, y, 38, "right")),
  ];

  return {
    animation: false,
    backgroundColor: "#fff",
    textStyle: { fontFamily: SANS },
    grid, xAxis, yAxis, series, legend, graphic,
  };
}

export default function App() {
  const ref = useRef<HTMLDivElement>(null);
  useEffect(() => {
    const chart = echarts.init(ref.current as HTMLDivElement, null, { renderer: "svg" });
    chart.setOption(buildOption() as any);
    return () => chart.dispose();
  }, []);
  return (
    <div
      ref={ref}
      style={{ position: "absolute", left: 0, top: 0, width: 1492, height: 1920, background: "#fff" }}
    />
  );
}
